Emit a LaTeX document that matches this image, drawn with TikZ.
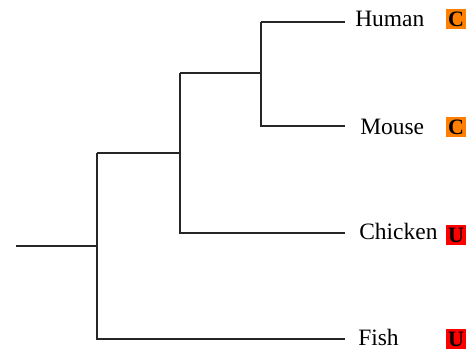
\documentclass[tikz,border=0pt]{standalone}
\usepackage{fontspec}
\setmainfont{Liberation Serif}
\definecolor{corange}{HTML}{FF8000}
\definecolor{cred}{HTML}{FF0000}
\begin{document}
\begin{tikzpicture}[x=0.75pt,y=-0.75pt,
  branch/.style={line width=1pt, draw=black!85},
  leaf/.style={anchor=base west, inner sep=0pt, font=\fontsize{17.6}{17.6}\selectfont},
  tag/.style={inner sep=0pt, minimum width=15.5pt, minimum height=15.5pt, font=\fontsize{16.5}{16.5}\selectfont\bfseries}]
\useasboundingbox (0,0) rectangle (467,352);
\coordinate (root) at (16,246);
\coordinate (n1) at (97,246);
\coordinate (n2) at (180,153);
\coordinate (n3) at (261,73);
\coordinate (hum) at (345,22);
\coordinate (mou) at (345,126);
\coordinate (chi) at (345,233);
\coordinate (fis) at (345,339);
\draw[branch] (root) -- (n1);
\draw[branch] (n2 -| n1) |- (fis);
\draw[branch] (n2 -| n1) -- (n2);
\draw[branch] (n3 -| n2) |- (chi);
\draw[branch] (n3 -| n2) -- (n3);
\draw[branch] (n3 |- hum) -- (hum);
\draw[branch] (n3 |- hum) |- (mou);
\node[leaf] (thum) at (355,27) {Human};
\node[leaf] (tmou) at (360,135) {Mouse};
\node[leaf] (tchi) at (359,240) {Chicken};
\node[leaf] (tfis) at (358,345) {Fish};
\node[tag, fill=corange] (bhum) at (456,19) {C};
\node[tag, fill=corange] (bmou) at (456,127) {C};
\node[tag, fill=cred] (bchi) at (456,235) {U};
\node[tag, fill=cred] (bfis) at (456,339) {U};
\end{tikzpicture}
\end{document}
